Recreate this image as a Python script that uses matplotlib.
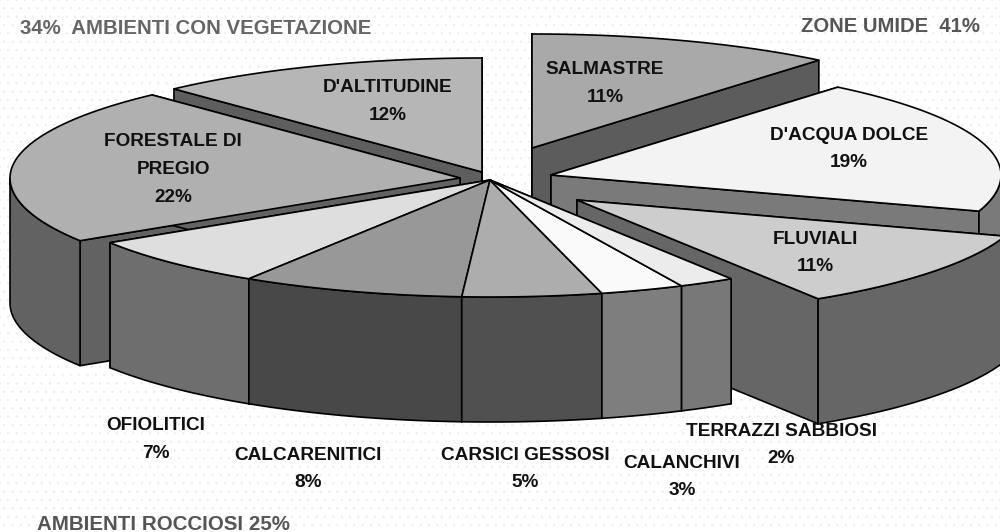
import numpy as np
import matplotlib
matplotlib.use('Agg')
import matplotlib.pyplot as plt
from matplotlib.patches import Polygon, Rectangle

plt.rcParams['font.family'] = ['Liberation Sans', 'DejaVu Sans']
plt.rcParams['hatch.linewidth'] = 0.5

# slices, clockwise from the top of the pie
names = ["SALMASTRE", "D'ACQUA DOLCE", "FLUVIALI", "TERRAZZI SABBIOSI", "CALANCHIVI",
         "CARSICI GESSOSI", "CALCARENITICI", "OFIOLITICI", "FORESTALE DI\nPREGIO", "D'ALTITUDINE"]
values = [11, 19, 11, 2, 3, 5, 8, 7, 22, 12]
top_colors = ['#a9a9a9', '#f3f3f3', '#cdcdcd', '#ececec', '#fafafa',
              '#adadad', '#989898', '#dedede', '#b0b0b0', '#b6b6b6']
wall_colors = ['#5c5c5c', '#7a7a7a', '#666666', '#787878', '#7e7e7e',
               '#505050', '#484848', '#6e6e6e', '#626262', '#5e5e5e']
group_titles = ["34%  AMBIENTI CON VEGETAZIONE", "ZONE UMIDE  41%", "AMBIENTI ROCCIOSI 25%"]

# apex of each exploded piece, pixels
apex = [(532, 148), (551, 175), (577, 200), (490, 180), (490, 180),
        (490, 180), (490, 180), (490, 180), (460, 178), (482, 172)]
# centre of the first label line, pixels
label_pos = [(605, 70), (849, 135), (815, 239), (781, 431), (682, 463),
             (525, 455), (308, 455), (156, 426), (173, 142), (388, 88)]
LINE_STEP = 27.5
draw_order = [[9], [0], [8], [1], [2], [7, 6, 5, 4, 3]]

RX = 450
RY_BACK = 114
RY_FRONT = 117
DEPTH = 125

fig = plt.figure(figsize=(10, 5.32), dpi=100)
ax = fig.add_axes([0, 0, 1, 1])
ax.set_xlim(0, 1000)
ax.set_ylim(532, 0)
ax.axis('off')
ax.add_patch(Rectangle((0, 0), 1000, 532, facecolor='#ffffff', edgecolor='#eeeeee',
                       hatch='..', lw=0, zorder=0))


def rim(c, a):
    a = np.radians(a)
    ry = np.where(np.cos(a) > 0, RY_BACK, RY_FRONT)
    return np.column_stack([c[0] + RX * np.sin(a), c[1] - ry * np.cos(a)])


def shape(pts, color, z):
    ax.add_patch(Polygon(pts, closed=True, facecolor=color, edgecolor='black',
                         lw=1.2, joinstyle='round', zorder=z))


edges = np.cumsum([0] + values) * 3.6
z = 1
for group in draw_order:
    # cut faces first, then outer wall, then the top
    for i in group:
        c = np.array(apex[i], float)
        for a in (edges[i], edges[i + 1]):
            p = rim(c, np.array([a]))[0]
            shape([c, p, p + [0, DEPTH], c + [0, DEPTH]], wall_colors[i], z)
            z += 1
    for i in group:
        a1 = max(edges[i], 90)
        a2 = min(edges[i + 1], 270)
        if a2 > a1:
            arc = rim(apex[i], np.linspace(a1, a2, 50))
            shape(np.vstack([arc, arc[::-1] + [0, DEPTH]]), wall_colors[i], z)
            z += 1
    for i in group:
        arc = rim(apex[i], np.linspace(edges[i], edges[i + 1], 60))
        shape(np.vstack([apex[i], arc]), top_colors[i], z)
        z += 1

for name, v, (x, y) in zip(names, values, label_pos):
    lines = name.split('\n') + [f"{v}%"]
    for k, line in enumerate(lines):
        ax.text(x, y + k * LINE_STEP, line, ha='center', va='center', fontsize=13.7,
                fontweight='bold', color='#111111', zorder=z)

ax.text(20, 29, group_titles[0], ha='left', va='center', fontsize=14.7, fontweight='bold',
        color='#666666', zorder=z)
ax.text(980, 26, group_titles[1], ha='right', va='center', fontsize=14.6, fontweight='bold',
        color='#555555', zorder=z)
ax.text(37, 524, group_titles[2], ha='left', va='center', fontsize=14.8, fontweight='bold',
        color='#555555', zorder=z)

fig.savefig('out.png', dpi=100)
